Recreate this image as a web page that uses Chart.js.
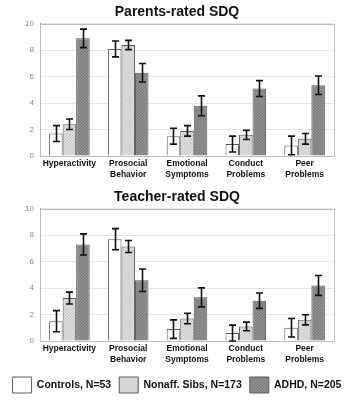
<!DOCTYPE html>
<html>
<head>
<meta charset="utf-8">
<script src="https://cdn.jsdelivr.net/npm/chart.js@4/dist/chart.umd.min.js"></script>
<style>
  html, body { margin: 0; padding: 0; background: #fff; }
  canvas { display: block; }
</style>
</head>
<body>
<canvas id="parents" width="354" height="185"></canvas>
<canvas id="teacher" width="354" height="218"></canvas>
<script>
// SDQ subscales
const categories = [['Hyperactivity'], ['Prosocial', 'Behavior'], ['Emotional', 'Symptoms'], ['Conduct', 'Problems'], ['Peer', 'Problems']];
const groupNames = ['Controls, N=53', 'Nonaff. Sibs, N=173', 'ADHD, N=205'];
const yTicks = [0, 2, 4, 6, 8, 10];

// Parents-rated means and error half-widths
const parentsControls = [1.7, 8.1, 1.5, 0.9, 0.8];
const parentsControlsErr = [0.6, 0.6, 0.6, 0.6, 0.7];
const parentsSibs = [2.4, 8.4, 1.9, 1.6, 1.3];
const parentsSibsErr = [0.4, 0.35, 0.4, 0.35, 0.4];
const parentsAdhd = [8.9, 6.3, 3.8, 5.1, 5.35];
const parentsAdhdErr = [0.7, 0.7, 0.75, 0.6, 0.7];

// Teacher-rated means and error half-widths
const teacherControls = [1.5, 7.7, 0.9, 0.6, 1.0];
const teacherControlsErr = [0.8, 0.8, 0.7, 0.6, 0.7];
const teacherSibs = [3.25, 7.15, 1.7, 1.1, 1.6];
const teacherSibsErr = [0.45, 0.45, 0.4, 0.33, 0.38];
const teacherAdhd = [7.3, 4.6, 3.3, 3.05, 4.2];
const teacherAdhdErr = [0.8, 0.85, 0.72, 0.58, 0.75];

function dotPattern(base, dot) {
  const c = document.createElement('canvas');
  c.width = 3; c.height = 3;
  const g = c.getContext('2d');
  g.fillStyle = base; g.fillRect(0, 0, 3, 3);
  g.fillStyle = dot; g.fillRect(0, 0, 1, 1); g.fillRect(2, 1, 1, 1); g.fillRect(1, 2, 1, 1);
  return g.createPattern(c, 'repeat');
}
const fills = ['#ffffff', dotPattern('#dedede', '#c4c4c4'), dotPattern('#919191', '#767676')];

const errorBars = {
  id: 'errorBars',
  afterDatasetsDraw(chart) {
    const ctx = chart.ctx, y = chart.scales.y;
    ctx.save();
    ctx.strokeStyle = '#111';
    ctx.lineWidth = 1.6;
    chart.data.datasets.forEach((ds, di) => {
      const meta = chart.getDatasetMeta(di);
      meta.data.forEach((bar, i) => {
        const v = ds.data[i], e = ds.errors[i];
        const x = Math.round(bar.x) + 0.5;
        const t = y.getPixelForValue(v + e), b = y.getPixelForValue(v - e);
        ctx.beginPath();
        ctx.moveTo(x, t); ctx.lineTo(x, b);
        ctx.moveTo(x - 3.5, t); ctx.lineTo(x + 3.5, t);
        ctx.moveTo(x - 3.5, b); ctx.lineTo(x + 3.5, b);
        ctx.stroke();
      });
    });
    ctx.restore();
  }
};

const plotFrame = {
  id: 'plotFrame',
  beforeDatasetsDraw(chart) {
    const a = chart.chartArea, ctx = chart.ctx;
    ctx.save();
    ctx.strokeStyle = '#bdbdbd';
    ctx.lineWidth = 1;
    ctx.strokeRect(Math.round(a.left) + 0.5, Math.round(a.top) + 0.5, Math.round(a.right - a.left), Math.round(a.bottom - a.top));
    ctx.restore();
  }
};

function makeChart(id, title, series, errs, withLegend) {
  const datasets = series.map((d, k) => ({
    label: groupNames[k],
    data: d,
    errors: errs[k],
    backgroundColor: fills[k],
    borderColor: '#5a5a5a',
    borderWidth: 1,
    barPercentage: 1.0,
    categoryPercentage: 0.69
  }));
  return new Chart(document.getElementById(id), {
    type: 'bar',
    data: { labels: categories, datasets },
    plugins: [plotFrame, errorBars],
    options: {
      responsive: false,
      devicePixelRatio: 1,
      animation: false,
      layout: { padding: 0 },
      plugins: {
        title: {
          display: true, text: title, color: '#111',
          font: { family: 'Liberation Sans', size: 14, weight: 'bold' },
          padding: { top: 4, bottom: 3 }
        },
        legend: withLegend ? {
          display: true, position: 'bottom',
          labels: {
            boxWidth: 19, boxHeight: 16, padding: 8, color: '#111',
            font: { family: 'Liberation Sans', size: 10.5, weight: 'bold' }
          }
        } : { display: false },
        tooltip: { enabled: false }
      },
      scales: {
        x: {
          grid: { display: false, drawTicks: false },
          border: { color: '#9a9a9a' },
          ticks: {
            autoSkip: false, maxRotation: 0, padding: 3, color: '#111',
            font: { family: 'Liberation Sans', size: 8.5, weight: 'bold' }
          },
          afterFit(s) { s.height = withLegend ? 28 : 29; }
        },
        y: {
          min: 0, max: 10,
          afterBuildTicks(s) { s.ticks = yTicks.map(v => ({ value: v })); },
          grid: { color: '#e6e6e6', drawTicks: false },
          border: { color: '#9a9a9a' },
          ticks: {
            padding: 6, color: '#888',
            font: { family: 'Liberation Sans', size: 8 }
          },
          afterFit(s) { s.width = 40; }
        },
        // empty right-hand margin beside the plot
        yRight: {
          axis: 'y', position: 'right', display: true,
          grid: { display: false, drawTicks: false },
          border: { display: false },
          ticks: { display: false },
          afterFit(s) { s.width = 20; }
        }
      }
    }
  });
}

makeChart('parents', 'Parents-rated SDQ',
  [parentsControls, parentsSibs, parentsAdhd],
  [parentsControlsErr, parentsSibsErr, parentsAdhdErr], false);
makeChart('teacher', 'Teacher-rated SDQ',
  [teacherControls, teacherSibs, teacherAdhd],
  [teacherControlsErr, teacherSibsErr, teacherAdhdErr], true);
</script>
</body>
</html>
